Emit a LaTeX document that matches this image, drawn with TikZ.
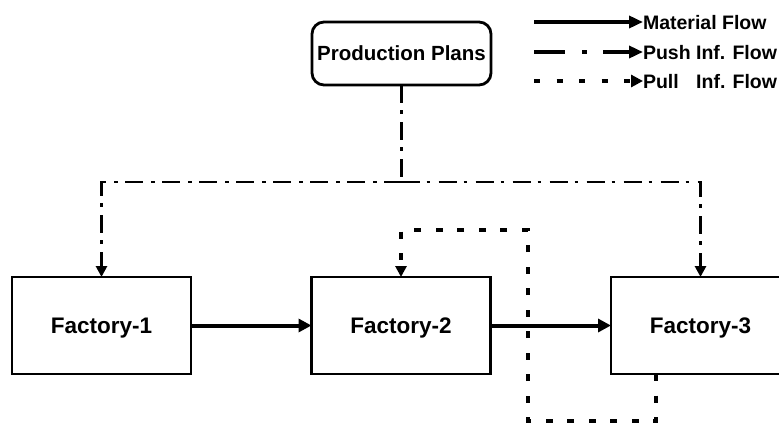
\documentclass[tikz,border=0pt]{standalone}
\usepackage{fontspec}
\setmainfont{Liberation Sans}
\usetikzlibrary{arrows.meta}

\tikzset{
  factory/.style={draw, line width=2.8pt, minimum width=179pt, minimum height=97pt,
    inner sep=0pt, outer sep=0pt, text depth=0pt,
    font=\fontsize{22.5}{26}\selectfont\bfseries},
  planbox/.style={draw, line width=2.8pt, rounded corners=12pt, minimum width=179pt,
    minimum height=63pt, inner sep=0pt, outer sep=0pt, text depth=0pt,
    font=\fontsize{20.5}{24}\selectfont\bfseries},
  legendtext/.style={anchor=west, inner sep=0pt, outer sep=0pt, text depth=0pt,
    font=\fontsize{19.5}{23}\selectfont\bfseries},
  material/.style={line width=4pt, -{Triangle[length=13pt,width=13pt]}},
  pushline/.style={line width=2.8pt, dash pattern=on 18pt off 7pt on 3.5pt off 8.5pt},
  pullline/.style={line width=3.2pt, dash pattern=on 7pt off 14.5pt},
  infotip/.style={-{Triangle[length=11pt,width=11pt]}},
}

\begin{document}
\begin{tikzpicture}[x=1pt,y=-1pt]
  \useasboundingbox (0,0) rectangle (779,423);
  \clip (0,0) rectangle (779,423);

  % boxes
  \node[planbox] (pp) at (401.5,53.5) {Production Plans};
  \node[factory] (f1) at (101.5,325.5) {Factory-1};
  \node[factory] (f2) at (401,325.5) {Factory-2};
  \node[factory] (f3) at (700.5,325.5) {Factory-3};

  % material flow between factories
  \draw[material] (f1.east) -- (f2.west);
  \draw[material] (f2.east) -- (f3.west);

  % push information flow from the production plans
  \coordinate (split) at (401.5,182);
  \draw[pushline] (pp.south) -- (split);
  \draw[pushline, infotip] (split) -| (f1.north);
  \draw[pushline, infotip] (split) -| (f3.north);

  % pull information flow from factory 3 back to factory 2
  \coordinate (pa) at (656,374);
  \coordinate (pb) at (528,421);
  \coordinate (pc) at (528,230);
  \draw[pullline, infotip] (pa) |- (pb) -- (pc) -| (f2.north);

  % legend
  \node[legendtext] (lm) at (643,22) {Material Flow};
  \node[legendtext] (lp) at (643,52) {Push Inf. Flow};
  \node[legendtext] (ll) at (643,81) {Pull\hspace{12pt} Inf. Flow};
  \coordinate (lm0) at (534,22);
  \coordinate (lp0) at (534,52);
  \coordinate (ll0) at (534,81);
  \draw[line width=3.4pt, -{Triangle[length=14pt,width=12pt]}] (lm0) -- (lm.west);
  \draw[line width=3.4pt, dash pattern=on 31pt off 17pt on 5pt off 16pt on 80pt off 1pt,
        -{Triangle[length=14pt,width=12pt]}] (lp0) -- (lp.west);
  \draw[line width=3.4pt, dash pattern=on 6pt off 16.5pt,
        -{Triangle[length=12pt,width=12pt]}] (ll0) -- (ll.west);
\end{tikzpicture}
\end{document}
